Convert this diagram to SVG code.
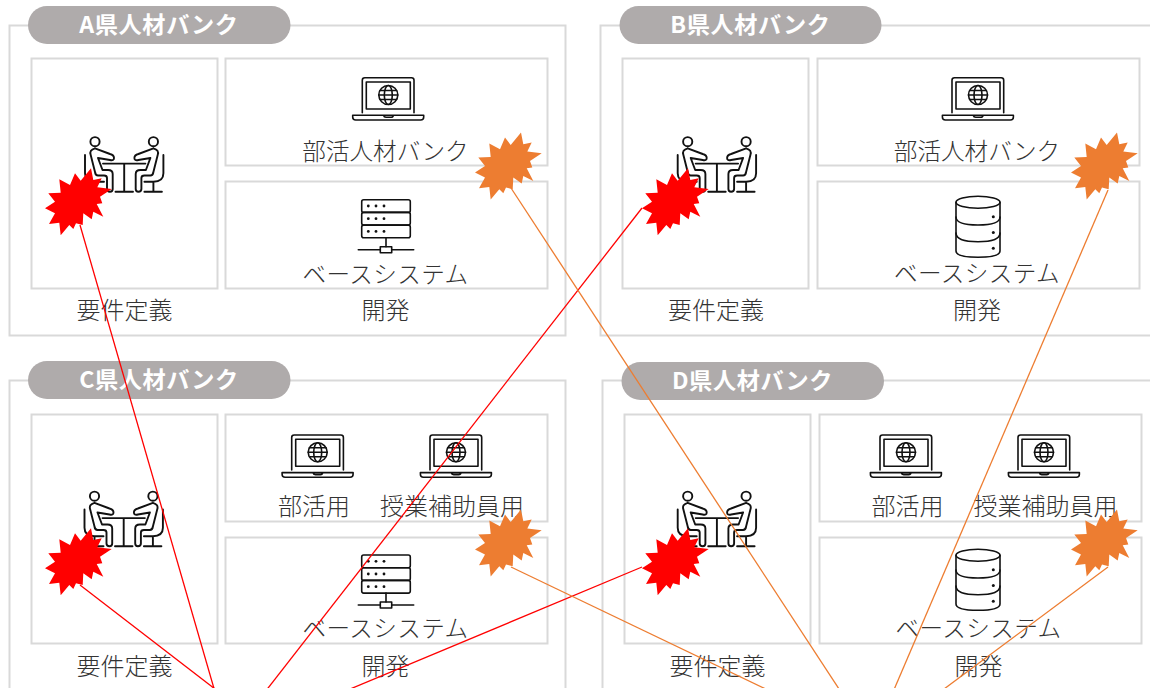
<svg xmlns="http://www.w3.org/2000/svg" width="1150" height="688" viewBox="0 0 1150 688">
<style>
.box{fill:#fff;stroke:#d9d9d9;stroke-width:2;transform:translate(.5px,.5px)}
.pill{fill:#afabab}
.title{font-family:"Noto Sans CJK JP","Noto Sans",sans-serif;font-size:23.2px;font-weight:700;fill:#fff;text-anchor:middle;letter-spacing:.6px}
.lbl{font-family:"Noto Sans CJK JP","Noto Sans",sans-serif;font-size:24px;font-weight:300;fill:#333;text-anchor:middle}
.kt{font-size:23.6px;letter-spacing:.4px}
.bk{font-size:23.6px}
.ic{fill:none;stroke:#111;stroke-width:1.6;stroke-linejoin:round;stroke-linecap:round}
.pp{stroke-width:1.9}
.dot{fill:#111}
.red{fill:#f00}
.org{fill:#ed7d31}
.rl{stroke:#f00;stroke-width:1.3;fill:none}
.ol{stroke:#ed7d31;stroke-width:1.3;fill:none}
</style>
<defs>
<g id="laptop" class="ic">
<path d="M362.3 112.7V80.2Q362.3 77.7 364.8 77.7H411.5Q414 77.7 414 80.2V112.7"/>
<rect x="366.3" y="82" width="44" height="27"/>
<circle cx="388.3" cy="95" r="9.5"/>
<ellipse cx="388.3" cy="95" rx="4" ry="9.5"/>
<path d="M378.8 95H397.8M380 90.5H396.6M380 99.5H396.6"/>
<path d="M352.7 115.3H423.7V117Q423.7 120 420.7 120H355.7Q352.7 120 352.7 117ZM383.5 115.3Q384 117.3 386 117.3H391Q393 117.3 393.3 115.3"/>
</g>
<g id="server">
<g class="ic">
<rect x="361.7" y="199.7" width="48.6" height="12.7" rx="2"/>
<rect x="361.7" y="212.4" width="48.6" height="12.7" rx="2"/>
<rect x="361.7" y="225.1" width="48.6" height="12.7" rx="2"/>
<path d="M386 237.8V246.7M358.3 249.7H380.3M391.7 249.7H413.7"/>
<rect x="380.3" y="246.7" width="11.4" height="6"/>
</g>
<g class="dot">
<circle cx="368.3" cy="206" r="1.4"/><circle cx="376" cy="206" r="1.4"/><circle cx="384" cy="206" r="1.4"/>
<circle cx="368.3" cy="218.7" r="1.4"/><circle cx="376" cy="218.7" r="1.4"/><circle cx="384" cy="218.7" r="1.4"/>
<circle cx="368.3" cy="231.4" r="1.4"/><circle cx="376" cy="231.4" r="1.4"/><circle cx="384" cy="231.4" r="1.4"/>
</g>
</g>
<g id="db">
<g class="ic">
<ellipse cx="978" cy="202.3" rx="22" ry="6"/>
<path d="M956 202.3V251Q956 257.3 978 257.3Q1000 257.3 1000 251V202.3"/>
<path d="M956 217Q956 225 978 225Q1000 225 1000 217M956 233Q956 241.7 978 241.7Q1000 241.7 1000 233"/>
</g>
<g class="dot"><circle cx="993.3" cy="216.7" r="1.5"/><circle cx="993.3" cy="232.5" r="1.5"/><circle cx="993.3" cy="248.3" r="1.5"/></g>
</g>
<g id="halfp" class="ic pp">
<circle cx="95" cy="141.7" r="4.6"/>
<path d="M85 155V173.3Q85 181.7 95 181.7H104M95 181.7V191.7M86.5 191.7H104"/>
<path d="M95 148.3Q89 150 90.7 155L95 172Q95.5 175.5 98 175.5H104Q107 175.5 107 178V189Q107 191.7 110 191.7Q112.7 191.7 112.7 189V174Q112.7 170 108 170H102.5L98 158L110 160Q114 161 114 158Q114 155 110 154L95 148.3"/>
</g>
<g id="people">
<use href="#halfp"/>
<use href="#halfp" transform="translate(248.4,0) scale(-1,1)"/>
<path class="ic pp" d="M103 163.6H145.4M124.2 163.6V191.7M115.5 191.7H133"/>
</g>
<polygon id="burst" points="91,168.3 93.3,180 101.7,178.3 97.3,187.3 111.7,189 100,196.7 102.3,203.3 96.7,204 103.3,216.7 93.3,211.7 91.7,219.3 83.3,213.3 82.7,225 76,223.3 73.3,229 69.3,225 60.7,235.3 59.3,222.7 49,224 55,213.3 45,208.3 55,201.7 48.3,193.3 60.7,192.7 59.3,179.3 70,185 75,173.3 80.7,180.7"/>
</defs>

<g id="panel-a">
<rect class="box" x="9" y="25" width="556" height="310"/>
<rect class="box" x="31" y="58" width="186" height="230"/>
<rect class="box" x="225" y="58" width="322" height="107"/>
<rect class="box" x="225" y="181" width="322" height="107"/>
<rect class="pill" x="28" y="6" width="262.5" height="38" rx="19"/>
<text class="title" x="159" y="32.5">A県人材バンク</text>
<use href="#people"/>
<use href="#laptop"/>
<use href="#server"/>
<text class="lbl bk" x="385.5" y="159.7">部活人材バンク</text>
<text class="lbl kt" x="385.5" y="282.7">ベースシステム</text>
<text class="lbl" x="124.5" y="318.7">要件定義</text>
<text class="lbl" x="385.5" y="318.7">開発</text>
<use href="#burst" class="red"/>
<use href="#burst" class="org" transform="translate(430,-35.7)"/>
</g>

<g id="panel-b">
<rect class="box" x="600" y="25" width="560" height="310"/>
<rect class="box" x="622" y="58" width="186" height="230"/>
<rect class="box" x="817" y="58" width="322" height="107"/>
<rect class="box" x="817" y="181" width="322" height="107"/>
<rect class="pill" x="619.5" y="6" width="262" height="38" rx="19"/>
<text class="title" x="750.5" y="32.5">B県人材バンク</text>
<use href="#people" transform="translate(592.7,0)"/>
<use href="#laptop" transform="translate(589.7,0)"/>
<use href="#db"/>
<text class="lbl bk" x="977" y="159.7">部活人材バンク</text>
<text class="lbl kt" x="977" y="281.7">ベースシステム</text>
<text class="lbl" x="716" y="318.7">要件定義</text>
<text class="lbl" x="977" y="318.7">開発</text>
<use href="#burst" class="red" transform="translate(597,0)"/>
<use href="#burst" class="org" transform="translate(1026,-35.7)"/>
</g>

<g id="panel-c">
<rect class="box" x="9" y="380" width="556" height="320"/>
<rect class="box" x="31" y="414" width="186" height="229"/>
<rect class="box" x="225" y="414" width="322" height="107"/>
<rect class="box" x="225" y="537" width="322" height="106"/>
<rect class="pill" x="28" y="361" width="262.5" height="38" rx="19"/>
<text class="title" x="159" y="387.5">C県人材バンク</text>
<use href="#people" transform="translate(-0.5,354.5)"/>
<use href="#laptop" transform="translate(-70.6,357.3)"/>
<use href="#laptop" transform="translate(67.7,357.3)"/>
<use href="#server" transform="translate(0,355.3)"/>
<text class="lbl" x="314" y="514.7">部活用</text>
<text class="lbl" x="452" y="514.7">授業補助員用</text>
<text class="lbl kt" x="385.5" y="636.7">ベースシステム</text>
<text class="lbl" x="124.5" y="674.7">要件定義</text>
<text class="lbl" x="385.5" y="674.7">開発</text>
<use href="#burst" class="red" transform="translate(0,360)"/>
<use href="#burst" class="org" transform="translate(430,341.3)"/>
</g>

<g id="panel-d">
<rect class="box" x="602" y="380" width="560" height="320"/>
<rect class="box" x="624" y="414" width="186" height="229"/>
<rect class="box" x="819" y="414" width="322" height="107"/>
<rect class="box" x="819" y="537" width="322" height="106"/>
<rect class="pill" x="621.5" y="362" width="262.5" height="38" rx="19"/>
<text class="title" x="752.5" y="388.5">D県人材バンク</text>
<use href="#people" transform="translate(592.7,354.5)"/>
<use href="#laptop" transform="translate(517.7,357.3)"/>
<use href="#laptop" transform="translate(655.7,357.3)"/>
<use href="#db" transform="translate(0,353)"/>
<text class="lbl" x="907.5" y="514.7">部活用</text>
<text class="lbl" x="1045.5" y="514.7">授業補助員用</text>
<text class="lbl kt" x="978.5" y="636.7">ベースシステム</text>
<text class="lbl" x="717.5" y="674.7">要件定義</text>
<text class="lbl" x="978.5" y="674.7">開発</text>
<use href="#burst" class="red" transform="translate(597,360)"/>
<use href="#burst" class="org" transform="translate(1026,341.3)"/>
</g>

<g id="connectors">
<path class="rl" d="M80 225L215 692"/>
<path class="rl" d="M642 208L265 692"/>
<path class="rl" d="M80 585L215 689"/>
<path class="rl" d="M642 567L343 692"/>
<path class="ol" d="M511 188L841 692"/>
<path class="ol" d="M1108 190L893 692"/>
<path class="ol" d="M511 567L772 692"/>
<path class="ol" d="M1108 567L940 692"/>
</g>
</svg>
